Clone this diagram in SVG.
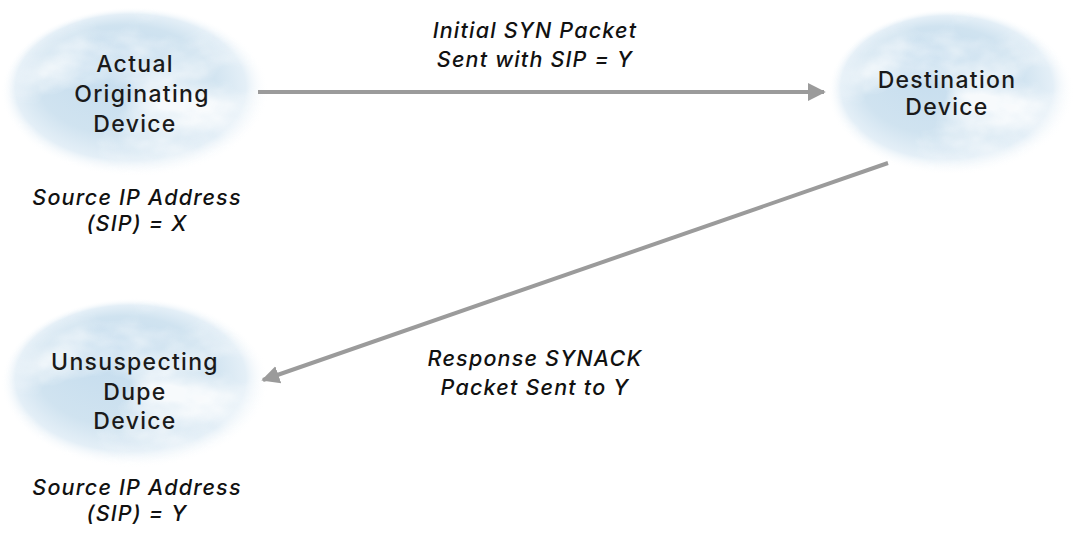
<svg xmlns="http://www.w3.org/2000/svg" width="1078" height="534" viewBox="0 0 1078 534">
<style>
.lbl{font-family:Inter,"Noto Sans",sans-serif;font-size:23px;font-weight:500;letter-spacing:1.3px;fill:#1a1a1a;text-anchor:middle}
.it{font-family:Inter,"Noto Sans",sans-serif;font-size:21.5px;font-weight:500;letter-spacing:1.2px;font-style:italic;fill:#111;text-anchor:middle}
.conn{stroke:#9b9b9b;stroke-width:4;fill:none}
</style>
<defs>
<radialGradient id="sky" cx="0.5" cy="0.5" r="0.5" fx="0.38" fy="0.3">
<stop offset="0" stop-color="#c4dcee"/>
<stop offset="0.65" stop-color="#d0e3f0"/>
<stop offset="0.86" stop-color="#e4eff7"/>
<stop offset="1" stop-color="#ffffff" stop-opacity="0"/>
</radialGradient>
<radialGradient id="fade" cx="0.5" cy="0.5" r="0.5">
<stop offset="0" stop-color="#fff"/>
<stop offset="0.7" stop-color="#fff"/>
<stop offset="1" stop-color="#000"/>
</radialGradient>
<mask id="m1" maskContentUnits="objectBoundingBox"><ellipse cx="0.5" cy="0.5" rx="0.5" ry="0.5" fill="url(#fade)"/></mask>
<filter id="cloud" x="0" y="0" width="1" height="1">
<feTurbulence type="fractalNoise" baseFrequency="0.011 0.018" numOctaves="4" seed="5"/>
<feColorMatrix type="matrix" values="0 0 0 0 1  0 0 0 0 1  0 0 0 0 1  2.2 0 0 0 -0.85"/>
</filter>
<marker id="ah" viewBox="0 0 10 10" refX="9" refY="5" markerWidth="4.5" markerHeight="5.5" markerUnits="strokeWidth" orient="auto">
<path d="M0,0 L10,5 L0,10 Z" fill="#9b9b9b"/>
</marker>
<g id="cloudshape">
<ellipse cx="0" cy="0" rx="134" ry="85" fill="url(#sky)"/>
<rect x="-134" y="-85" width="268" height="170" filter="url(#cloud)" mask="url(#m1)" opacity="0.85"/>
</g>
</defs>
<rect width="1078" height="534" fill="#fff"/>
<g id="origin">
<use href="#cloudshape" x="135" y="92"/>
<text class="lbl" x="135" y="72">Actual</text>
<text class="lbl" x="142" y="102">Originating</text>
<text class="lbl" x="135" y="132">Device</text>
<text class="it" x="137" y="205">Source IP Address</text>
<text class="it" x="137" y="231">(SIP) = X</text>
</g>
<g id="destination">
<use href="#cloudshape" transform="translate(951,92) scale(0.92,0.98)"/>
<text class="lbl" x="947" y="88">Destination</text>
<text class="lbl" x="947" y="115">Device</text>
</g>
<g id="dupe">
<use href="#cloudshape" x="135" y="383"/>
<text class="lbl" x="135" y="370">Unsuspecting</text>
<text class="lbl" x="135" y="400">Dupe</text>
<text class="lbl" x="135" y="429">Device</text>
<text class="it" x="137" y="495">Source IP Address</text>
<text class="it" x="137" y="521">(SIP) = Y</text>
</g>
<g id="connectors">
<line class="conn" x1="258" y1="92" x2="824" y2="92" marker-end="url(#ah)"/>
<line class="conn" x1="888" y1="163" x2="263" y2="380" marker-end="url(#ah)"/>
<text class="it" x="535" y="38">Initial SYN Packet</text>
<text class="it" x="535" y="67">Sent with SIP = Y</text>
<text class="it" x="535" y="366">Response SYNACK</text>
<text class="it" x="535" y="395">Packet Sent to Y</text>
</g>
</svg>
